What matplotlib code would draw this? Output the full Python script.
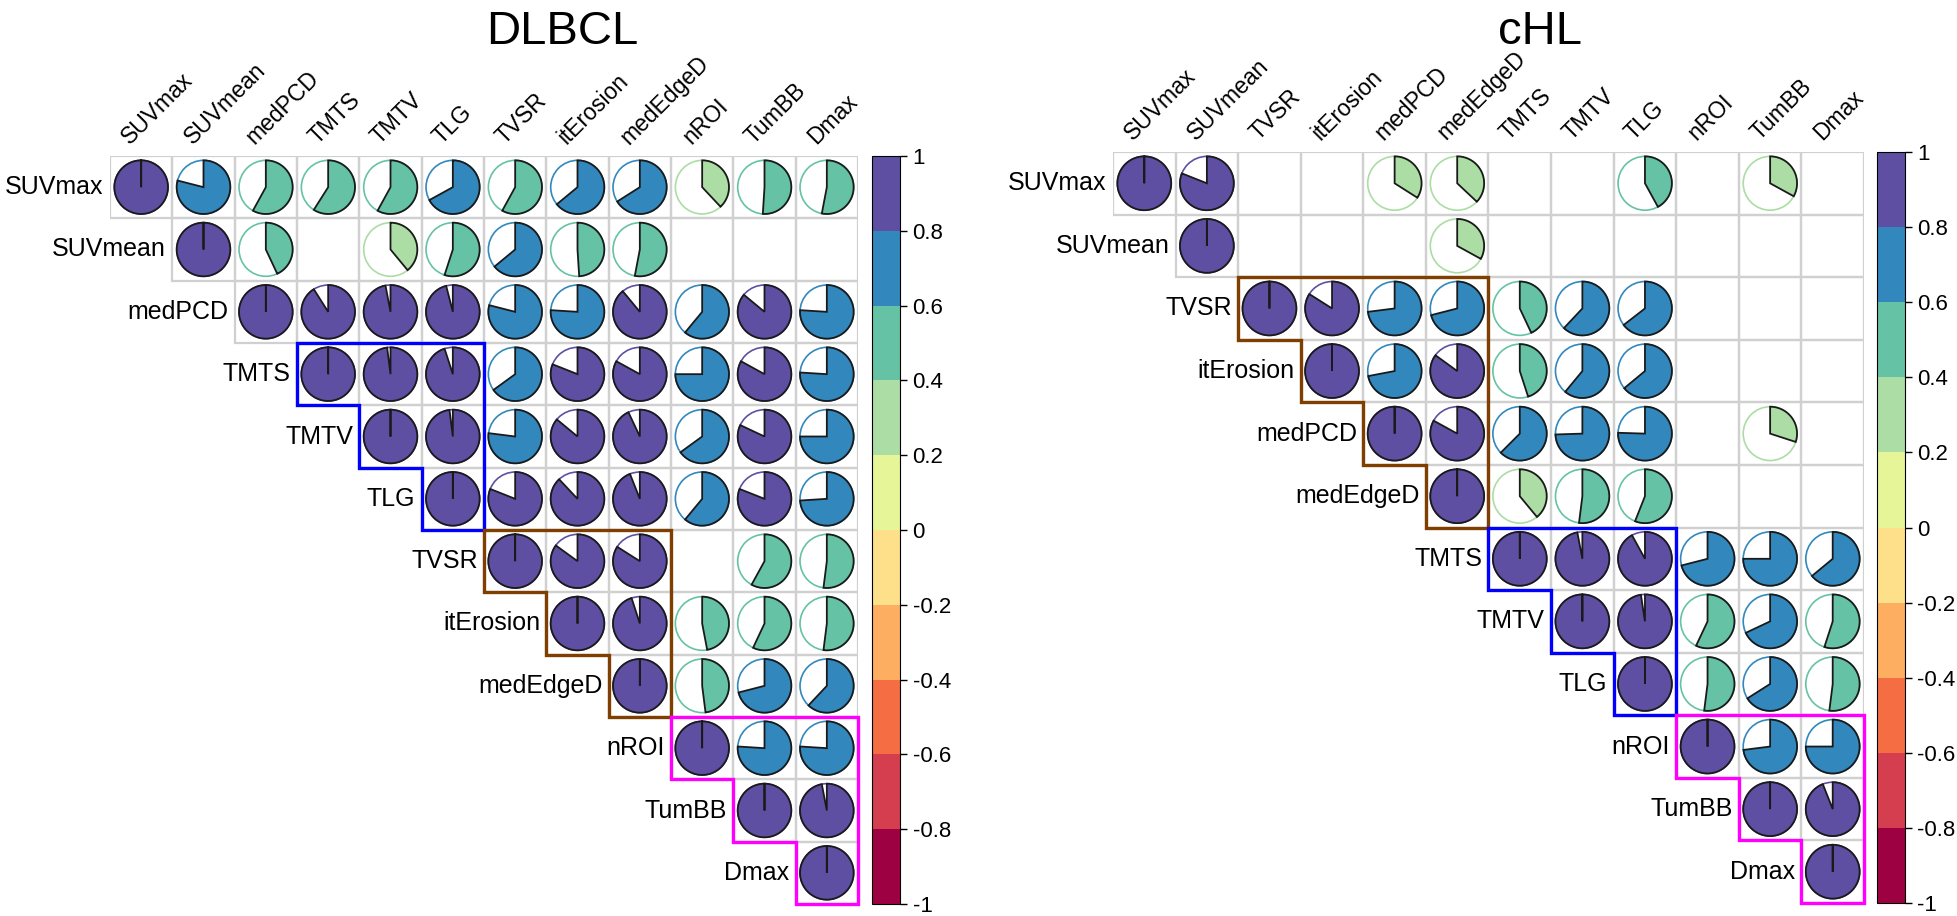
import numpy as np
import matplotlib
matplotlib.use('Agg')
from matplotlib import pyplot as plt
from matplotlib.patches import Polygon, Circle, Rectangle
from matplotlib.colors import ListedColormap, BoundaryNorm
from matplotlib.cm import ScalarMappable

plt.rcParams['font.family'] = ['Liberation Sans', 'DejaVu Sans']

# ---- data: upper triangle, each row starts at the diagonal; None = not significant
dlbcl_vars = ['SUVmax', 'SUVmean', 'medPCD', 'TMTS', 'TMTV', 'TLG', 'TVSR',
              'itErosion', 'medEdgeD', 'nROI', 'TumBB', 'Dmax']
dlbcl_rows = [
    [1, 0.79, 0.58, 0.59, 0.58, 0.67, 0.58, 0.64, 0.66, 0.38, 0.51, 0.53],
    [1, 0.43, None, 0.39, 0.55, 0.64, 0.49, 0.53, None, None, None],
    [1, 0.91, 0.97, 0.96, 0.79, 0.76, 0.89, 0.61, 0.86, 0.76],
    [1, 0.98, 0.95, 0.65, 0.81, 0.83, 0.75, 0.83, 0.76],
    [1, 0.98, 0.77, 0.86, 0.93, 0.65, 0.82, 0.75],
    [1, 0.81, 0.88, 0.94, 0.61, 0.81, 0.74],
    [1, 0.85, 0.84, None, 0.58, 0.52],
    [1, 0.95, 0.47, 0.57, 0.52],
    [1, 0.48, 0.71, 0.62],
    [1, 0.76, 0.76],
    [1, 0.97],
    [1],
]
dlbcl_clusters = [(3, 5), (6, 8), (9, 11)]
dlbcl_cluster_colors = ['#0000ff', '#7f3f00', '#ff00ff']

chl_vars = ['SUVmax', 'SUVmean', 'TVSR', 'itErosion', 'medPCD', 'medEdgeD',
            'TMTS', 'TMTV', 'TLG', 'nROI', 'TumBB', 'Dmax']
chl_rows = [
    [1, 0.81, None, None, 0.34, 0.37, None, None, 0.42, None, 0.33, None],
    [1, None, None, None, 0.33, None, None, None, None, None, None],
    [1, 0.84, 0.73, 0.71, 0.43, 0.62, 0.645, None, None, None],
    [1, 0.72, 0.85, 0.45, 0.61, 0.64, None, None, None],
    [1, 0.83, 0.625, 0.745, 0.755, None, 0.30, None],
    [1, 0.39, 0.52, 0.56, None, None, None],
    [1, 0.97, 0.92, 0.71, 0.75, 0.64],
    [1, 0.976, 0.57, 0.68, 0.55],
    [1, 0.52, 0.66, 0.52],
    [1, 0.73, 0.75],
    [1, 0.94],
    [1],
]
chl_clusters = [(2, 5), (6, 8), (9, 11)]
chl_cluster_colors = ['#7f3f00', '#0000ff', '#ff00ff']

# Spectral, 10 classes, from -1 to 1
palette = ['#9E0142', '#D53E4F', '#F46D43', '#FDAE61', '#FEE08B',
           '#E6F598', '#ABDDA4', '#66C2A5', '#3288BD', '#5E4FA2']
bounds = np.linspace(-1, 1, 11)
tick_labels = ['-1', '-0.8', '-0.6', '-0.4', '-0.2', '0', '0.2', '0.4', '0.6', '0.8', '1']

W, H = 1958, 916
fig = plt.figure(figsize=(W / 100, H / 100), dpi=100)


def px_axes(left, top, right, bottom):
    return fig.add_axes([left / W, 1 - bottom / H, (right - left) / W, (bottom - top) / H])


def corr_color(r):
    k = np.searchsorted(bounds, r, side='left') - 1
    return palette[min(max(k, 0), 9)]


def draw_corr(ax, names, rows, clusters, cl_colors):
    n = len(names)
    ax.set_xlim(0, n)
    ax.set_ylim(n, 0)
    ax.axis('off')
    R = 0.43
    for i, row in enumerate(rows):
        for k, r in enumerate(row):
            j = i + k
            ax.add_patch(Rectangle((j, i), 1, 1, fill=False, edgecolor='#d0d0d0', lw=1.6, zorder=1))
            if r is None:
                continue
            col = corr_color(r)
            cx, cy = j + 0.5, i + 0.5
            ax.add_patch(Circle((cx, cy), R, fill=False, edgecolor=col, lw=1.2, zorder=2))
            phi = np.linspace(0, abs(r) * 2 * np.pi, 120)
            xs = np.r_[cx, cx + R * np.sin(phi)]
            ys = np.r_[cy, cy - R * np.cos(phi)]
            ax.add_patch(Polygon(np.c_[xs, ys], closed=True, facecolor=col,
                                 edgecolor='#1a1a1a', lw=1.3, zorder=3))
    for (a, b), c in zip(clusters, cl_colors):
        pts = [(a, a), (b + 1, a), (b + 1, b + 1)]
        for k in range(b, a - 1, -1):
            pts.append((k, k + 1))
            pts.append((k, k))
        ax.add_patch(Polygon(pts, closed=True, fill=False, edgecolor=c, lw=2.4,
                             zorder=4, clip_on=False))
    for i, name in enumerate(names):
        ax.text(i - 0.1, i + 0.5, name, ha='right', va='center', fontsize=18)
        ax.text(i + 0.38, -0.12, name, rotation=45, ha='left', va='bottom',
                rotation_mode='anchor', fontsize=16.5)


def draw_cbar(cax):
    sm = ScalarMappable(norm=BoundaryNorm(bounds, 10), cmap=ListedColormap(palette))
    cb = fig.colorbar(sm, cax=cax, ticks=bounds)
    cb.ax.set_yticklabels(tick_labels, fontsize=16)
    cb.ax.tick_params(length=5, width=1, pad=4)
    cb.outline.set_linewidth(0.8)


ax1 = px_axes(110, 156, 858, 904)
draw_corr(ax1, dlbcl_vars, dlbcl_rows, dlbcl_clusters, dlbcl_cluster_colors)
draw_cbar(px_axes(872, 156, 900, 904))
fig.text(562 / W, 1 - 32 / H, 'DLBCL', ha='center', va='center', fontsize=34)

ax2 = px_axes(1113, 152, 1864, 903)
draw_corr(ax2, chl_vars, chl_rows, chl_clusters, chl_cluster_colors)
draw_cbar(px_axes(1877, 152, 1905, 903))
fig.text(1540 / W, 1 - 32 / H, 'cHL', ha='center', va='center', fontsize=34)

fig.savefig('out.png', dpi=100)
